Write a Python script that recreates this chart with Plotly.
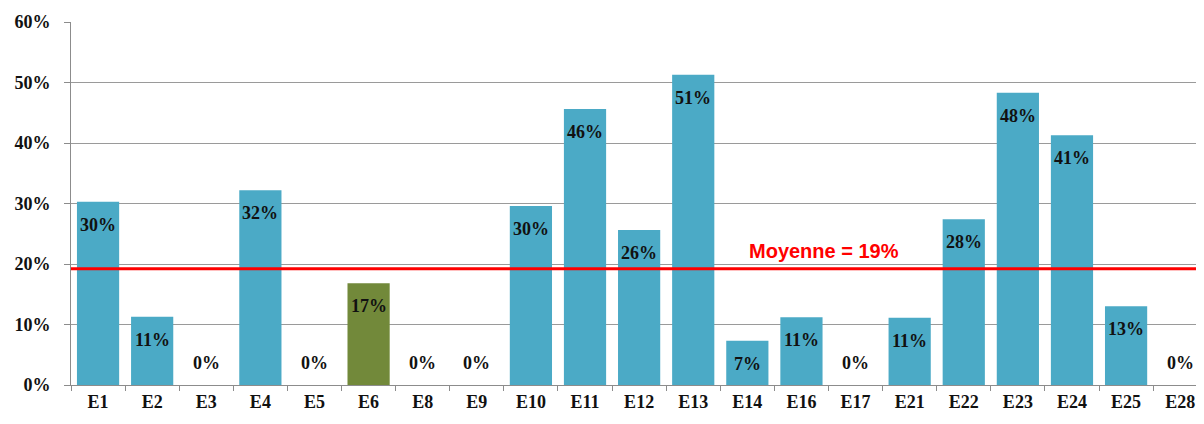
import plotly.graph_objects as go

categories = ["E1", "E2", "E3", "E4", "E5", "E6", "E8", "E9", "E10", "E11", "E12",
              "E13", "E14", "E16", "E17", "E21", "E22", "E23", "E24", "E25", "E28"]
values = [30.3, 11.3, 0, 32.2, 0, 16.8, 0, 0, 29.6, 45.6, 25.6,
          51.3, 7.3, 11.2, 0, 11.1, 27.4, 48.3, 41.3, 13.0, 0]
labels = ["30%", "11%", "0%", "32%", "0%", "17%", "0%", "0%", "30%", "46%", "26%",
          "51%", "7%", "11%", "0%", "11%", "28%", "48%", "41%", "13%", "0%"]
highlight = "E6"
mean_value = 19.2
mean_label = "Moyenne = 19%"
y_ticks = [0, 10, 20, 30, 40, 50, 60]
y_tick_labels = ["0%", "10%", "20%", "30%", "40%", "50%", "60%"]

BLUE = "#4BAAC6"
GREEN = "#72893A"
FONT = "Liberation Serif"

colors = [GREEN if c == highlight else BLUE for c in categories]

fig = go.Figure()
fig.add_trace(go.Bar(
    x=categories, y=values,
    marker=dict(color=colors, line=dict(width=0)),
    hoverinfo="skip",
))

for c, v, t in zip(categories, values, labels):
    fig.add_annotation(
        x=c, y=v, text=t, showarrow=False, xref="x", yref="y",
        yanchor="middle", yshift=(-23 if v > 0 else 22),
        font=dict(family=FONT, size=18, color="#111111", weight="bold"),
    )

fig.add_shape(type="line", xref="paper", yref="y", x0=0, x1=1,
              y0=mean_value, y1=mean_value,
              line=dict(color="#FF0000", width=3), layer="above")
fig.add_annotation(
    x=0.665, xref="paper", xanchor="center", y=mean_value, yref="y", text=mean_label,
    showarrow=False, yanchor="middle", yshift=18,
    font=dict(family="Liberation Sans", size=20, color="#FF0000", weight="bold"),
)

# page body has an 8px margin, so the figure is sized to fill the rest of the window
fig.update_layout(
    width=1196, height=416,
    margin=dict(l=63, r=0, t=14, b=39, autoexpand=False),
    plot_bgcolor="white", paper_bgcolor="white",
    showlegend=False, bargap=0.22,
    xaxis=dict(
        type="category", showgrid=False, showline=True, linecolor="#8c8c8c", linewidth=1,
        ticks="outside", tickson="boundaries", ticklen=5, tickcolor="#8c8c8c",
        tickfont=dict(family=FONT, size=18, color="#111111", weight="bold"),
        range=[-0.5, len(categories) - 0.56], automargin=False,
    ),
    yaxis=dict(
        range=[0, 60], tickvals=y_ticks, ticktext=y_tick_labels,
        showgrid=True, gridcolor="#9a9a9a", gridwidth=1,
        showline=True, linecolor="#8c8c8c", linewidth=1,
        ticks="outside", ticklen=6, tickcolor="#8c8c8c",
        tickfont=dict(family=FONT, size=18, color="#111111", weight="bold"),
        ticklabelstandoff=10, zeroline=False, automargin=False,
    ),
)

fig.write_html("out.html")
